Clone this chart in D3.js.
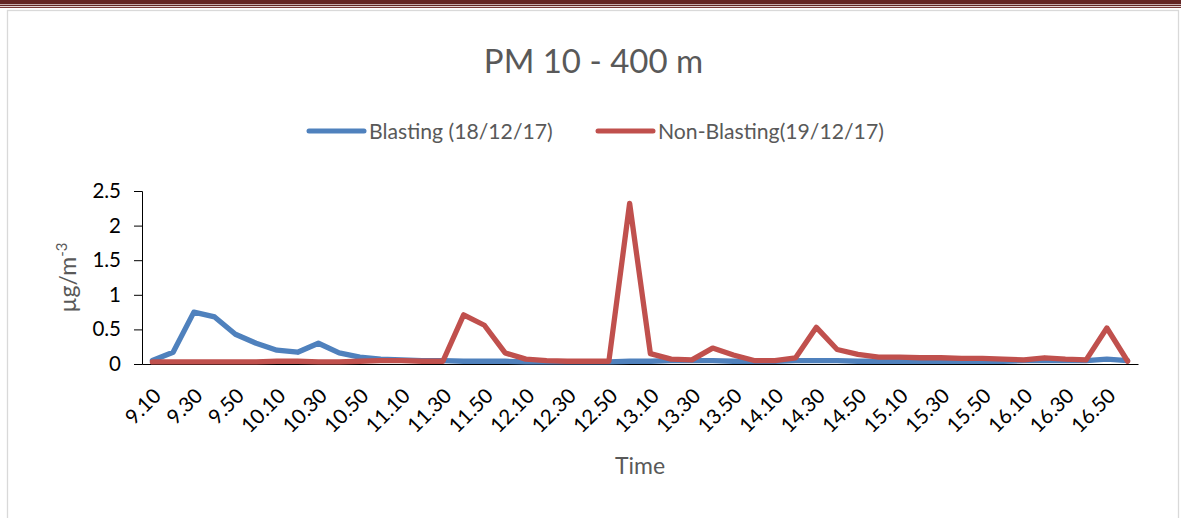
<!DOCTYPE html>
<html>
<head>
<meta charset="utf-8">
<script src="https://cdn.jsdelivr.net/npm/d3@7/dist/d3.min.js"></script>
<style>
  html, body { margin: 0; padding: 0; background: #fff; }
  svg { display: block; }
  text { font-family: Lato, "Open Sans", sans-serif; }
</style>
</head>
<body>
<svg id="chart" width="1181" height="518"></svg>
<script>
// ---- data ----
const times = ["9.10","9.20","9.30","9.40","9.50","10.00","10.10","10.20","10.30","10.40","10.50","11.00",
  "11.10","11.20","11.30","11.40","11.50","12.00","12.10","12.20","12.30","12.40","12.50","13.00",
  "13.10","13.20","13.30","13.40","13.50","14.00","14.10","14.20","14.30","14.40","14.50","15.00",
  "15.10","15.20","15.30","15.40","15.50","16.00","16.10","16.20","16.30","16.40","16.50","17.00"];
const blasting = [0.05,0.17,0.75,0.68,0.43,0.30,0.20,0.17,0.30,0.16,0.10,0.07,
  0.06,0.05,0.05,0.04,0.04,0.04,0.03,0.03,0.03,0.03,0.03,0.04,
  0.04,0.05,0.05,0.05,0.04,0.04,0.04,0.05,0.05,0.05,0.04,0.04,
  0.04,0.04,0.04,0.04,0.04,0.04,0.05,0.05,0.05,0.05,0.07,0.05];
const nonBlasting = [0.03,0.03,0.03,0.03,0.03,0.03,0.04,0.04,0.03,0.03,0.04,0.05,
  0.05,0.04,0.04,0.71,0.56,0.16,0.07,0.05,0.04,0.04,0.04,2.32,
  0.15,0.07,0.06,0.23,0.13,0.05,0.05,0.09,0.53,0.21,0.14,0.10,
  0.10,0.09,0.09,0.08,0.08,0.07,0.06,0.09,0.07,0.06,0.52,0.04];
const yTicks = [0, 0.5, 1, 1.5, 2, 2.5];
const seriesNames = ["Blasting (18/12/17)", "Non-Blasting(19/12/17)"];
const seriesColors = ["#4F81BD", "#C0504D"];
const titleText = "PM 10 - 400 m";
const xTitle = "Time";

// ---- drawing ----
const svg = d3.select("#chart");

// top decorative bands
svg.append("rect").attr("x", 0).attr("y", 0).attr("width", 1181).attr("height", 4.3).attr("fill", "#632523");
svg.append("rect").attr("x", 0).attr("y", 4.9).attr("width", 1181).attr("height", 1.2).attr("fill", "#632523");
svg.append("rect").attr("x", 0).attr("y", 6.9).attr("width", 1181).attr("height", 1.1).attr("fill", "#7a3a38");

// chart border
svg.append("rect").attr("x", 7.5).attr("y", 10.5).attr("width", 1171).attr("height", 520)
  .attr("fill", "#fff").attr("stroke", "#d9d9d9").attr("stroke-width", 1.3);

const plot = { left: 142, right: 1138, top: 191, bottom: 364 };

const x = d3.scaleBand().domain(times).range([plot.left, plot.right]).padding(0);
const y = d3.scaleLinear().domain([0, 2.5]).range([plot.bottom, plot.top]);

// title
svg.append("text").attr("x", 593.5).attr("y", 73).attr("text-anchor", "middle")
  .attr("font-size", 33).attr("fill", "#595959").text(titleText);

// legend
const legendItems = [
  { name: seriesNames[0], color: seriesColors[0], x1: 309, x2: 364, tx: 369 },
  { name: seriesNames[1], color: seriesColors[1], x1: 598, x2: 653, tx: 658 }
];
legendItems.forEach(d => {
  svg.append("line").attr("x1", d.x1).attr("x2", d.x2).attr("y1", 131).attr("y2", 131)
    .attr("stroke", d.color).attr("stroke-width", 5).attr("stroke-linecap", "round");
  svg.append("text").attr("x", d.tx).attr("y", 139).attr("font-size", 21.2)
    .attr("fill", "#595959").text(d.name);
});

// y axis
const yAxis = d3.axisLeft(y).tickValues(yTicks).tickSize(8).tickPadding(13)
  .tickFormat(d => d3.format("")(d));
const gy = svg.append("g").attr("transform", `translate(${plot.left},0)`).call(yAxis);
gy.select(".domain").attr("stroke", "#000").attr("stroke-width", 1);
gy.selectAll(".tick line").attr("stroke", "#000");
gy.selectAll(".tick text").attr("font-size", 20.5).attr("fill", "#000")
  .style("font-family", "Lato, 'Open Sans', sans-serif");

// x axis
const xAxis = d3.axisBottom(x).tickSize(0).tickSizeOuter(0)
  .tickFormat((d, i) => i % 2 === 0 ? d : "");
const gx = svg.append("g").attr("transform", `translate(0,${plot.bottom})`).call(xAxis);
gx.select(".domain").attr("stroke", "#000").attr("stroke-width", 1);
gx.selectAll(".tick text")
  .attr("font-size", 20.5)
  .attr("fill", "#000")
  .style("font-family", "Lato, 'Open Sans', sans-serif")
  .attr("text-anchor", "end")
  .attr("dy", null)
  .attr("y", 0)
  .attr("transform", "translate(10,33) rotate(-45)");

// axis titles
svg.append("text").attr("x", (plot.left + plot.right) / 2).attr("y", 474)
  .attr("text-anchor", "middle").attr("font-size", 23).attr("fill", "#595959").text(xTitle);

const yt = svg.append("text").attr("transform", `translate(76,${(plot.top + plot.bottom) / 2}) rotate(-90)`)
  .attr("text-anchor", "middle").attr("font-size", 23).attr("fill", "#595959");
yt.append("tspan").text("µg/m");
yt.append("tspan").attr("font-size", 15).attr("dy", -9).text("-3");

// lines
const line = d3.line().x((d, i) => x(times[i]) + x.bandwidth() / 2).y(d => y(d));
[blasting, nonBlasting].forEach((s, k) => {
  svg.append("path").datum(s).attr("d", line).attr("fill", "none")
    .attr("stroke", seriesColors[k]).attr("stroke-width", 5.3)
    .attr("stroke-linejoin", "round").attr("stroke-linecap", "round");
});
</script>
</body>
</html>
